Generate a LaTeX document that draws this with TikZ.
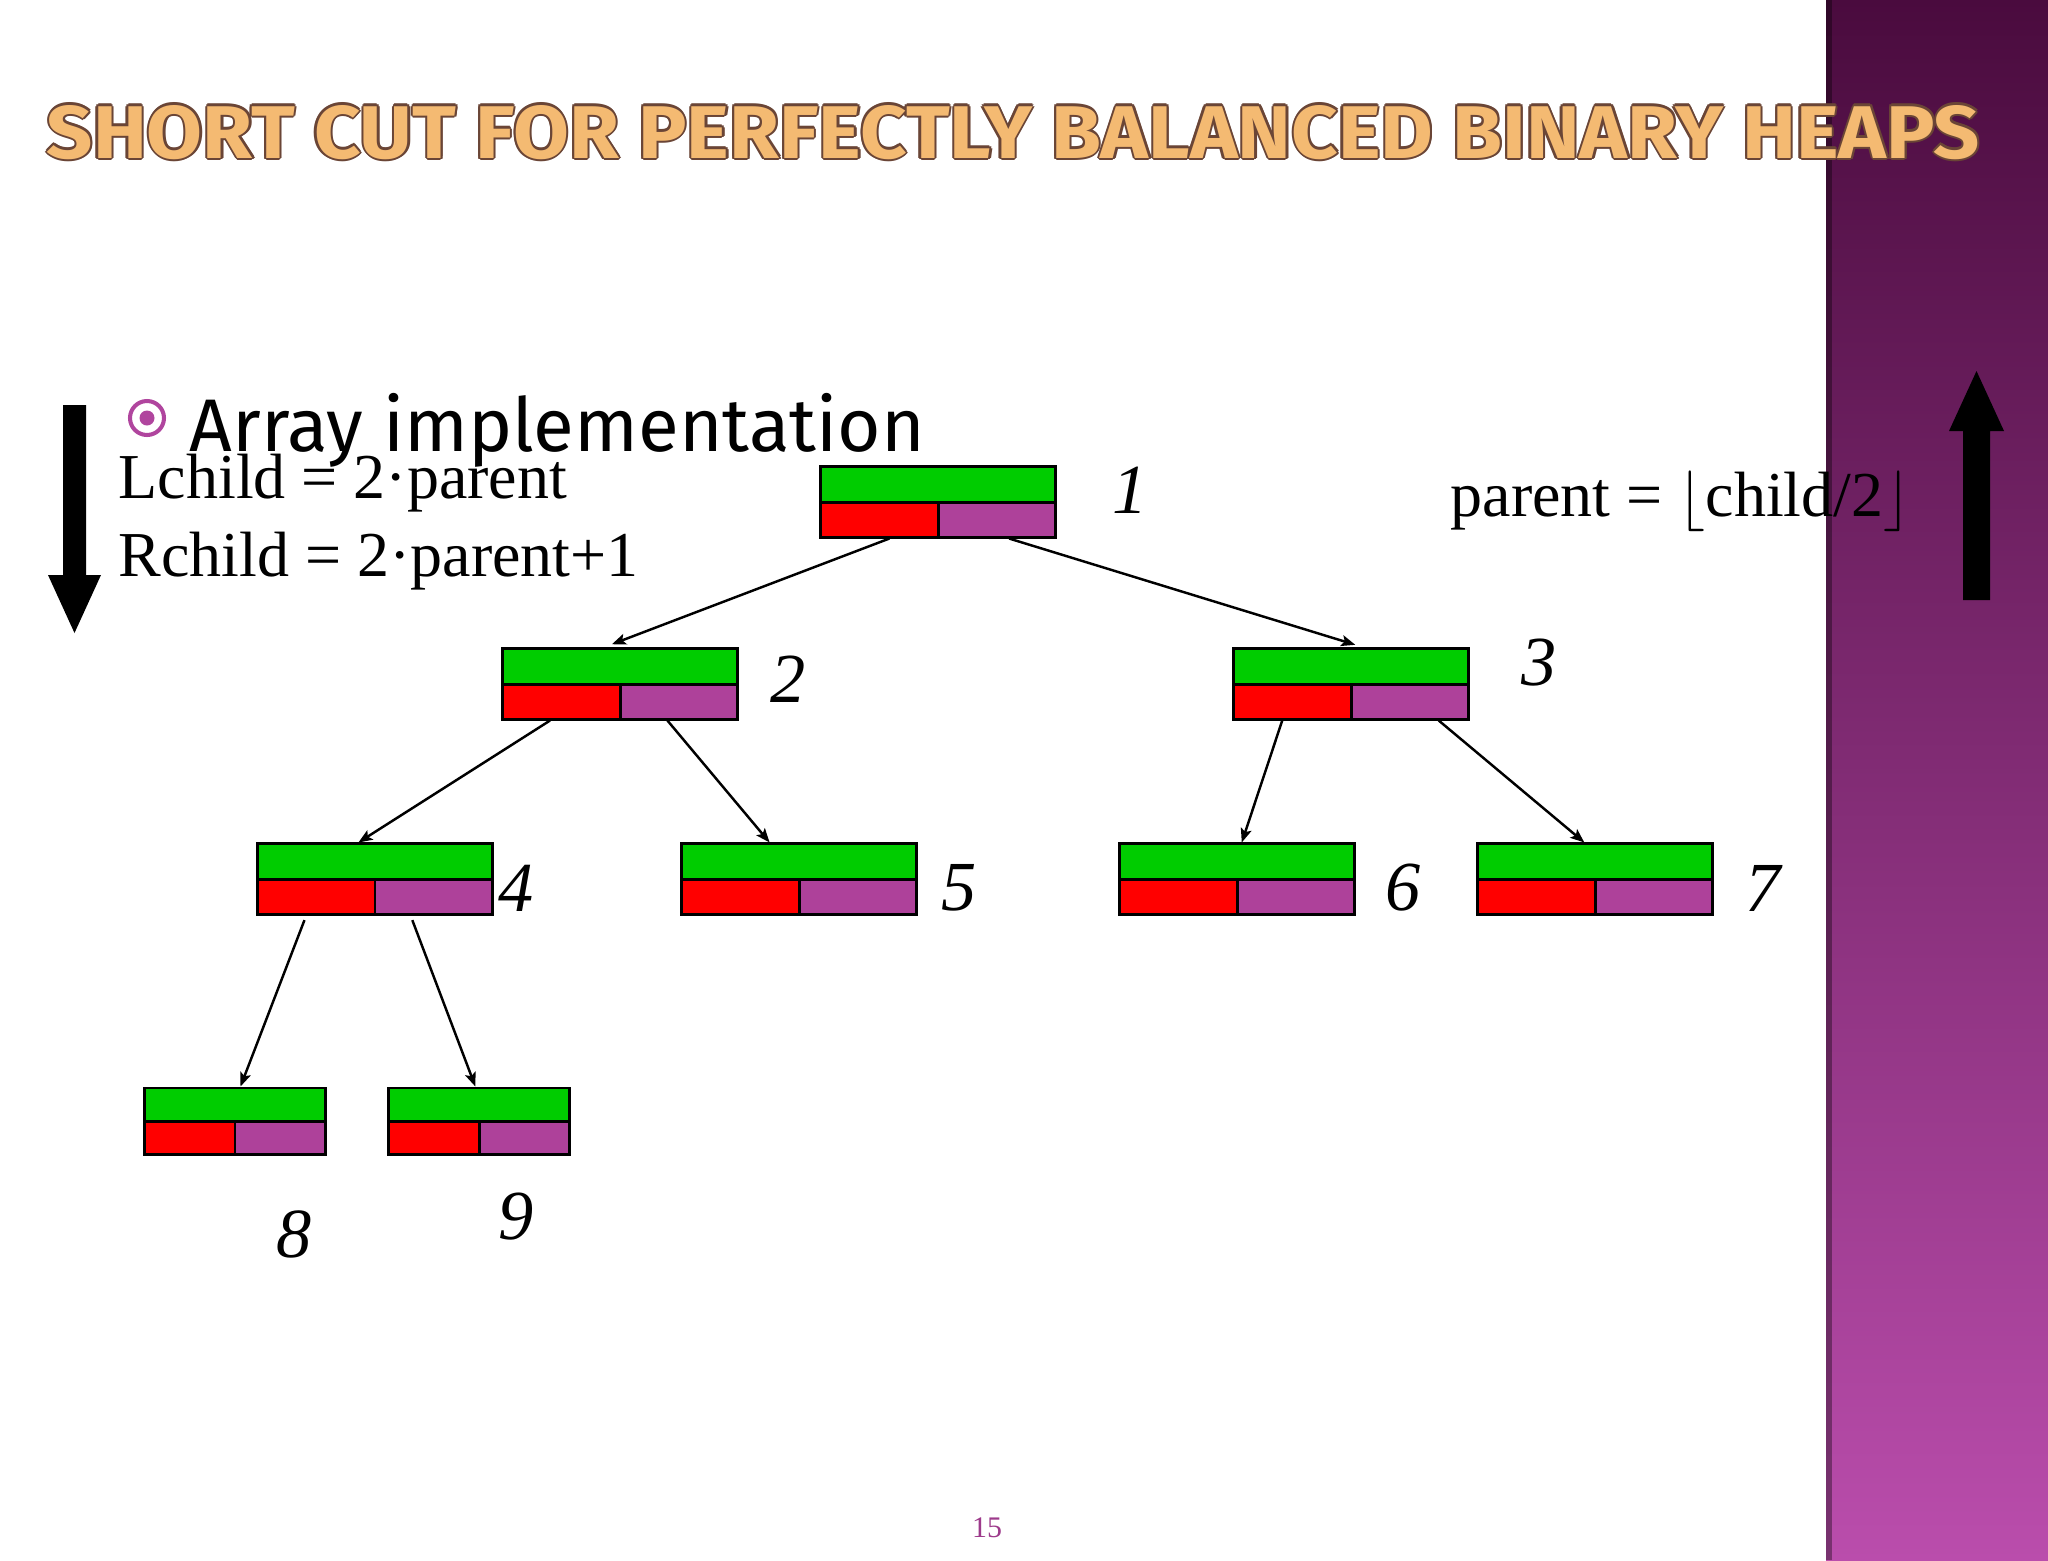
\documentclass[tikz,border=0pt]{standalone}
\usepackage{fontspec}
\setmainfont{Liberation Serif}
\newfontfamily\titlefont{Fira Sans}
\usetikzlibrary{arrows.meta,calc}

\definecolor{cellgreen}{HTML}{00CC00}
\definecolor{cellred}{HTML}{FF0000}
\definecolor{cellpurple}{HTML}{AE419A}
\definecolor{bandtop}{HTML}{4A0B3E}
\definecolor{bandmid}{HTML}{8A3680}
\definecolor{bandbot}{HTML}{BA4DAC}
\definecolor{titlefill}{HTML}{F4BA72}
\definecolor{titleedge}{HTML}{6A4536}
\definecolor{bulletcol}{HTML}{B0459E}

\tikzset{
  heapcell/.style={draw, line width=0.85pt, inner sep=0pt,
    minimum width=2.34cm, minimum height=0.70cm,
    path picture={
      \fill[cellgreen] (path picture bounding box.north west) rectangle (path picture bounding box.east);
      \fill[cellred] (path picture bounding box.west) rectangle (path picture bounding box.south);
      \fill[cellpurple] (path picture bounding box.center) rectangle (path picture bounding box.south east);
      \draw[line width=0.85pt] (path picture bounding box.west) -- (path picture bounding box.east)
        (path picture bounding box.center) -- (path picture bounding box.south);
    }},
  smallcell/.style={heapcell, minimum width=1.80cm, minimum height=0.66cm},
  link/.style={line width=0.7pt, -{Stealth[length=1.4mm,width=1.1mm,inset=0.3mm]}},
  idx/.style={font=\fontsize{20}{24}\selectfont\itshape, inner sep=0pt},
  formula/.style={font=\fontsize{18.2}{22}\selectfont, anchor=base west, inner sep=0pt},
  titletext/.style={anchor=base west, inner sep=0pt},
}

\newcommand{\slidetitle}{\resizebox{19.32cm}{0.53cm}{\titlefont\bfseries SHORT CUT FOR PERFECTLY BALANCED BINARY HEAPS}}

\begin{document}
\begin{tikzpicture}[x=0.01cm,y=-0.01cm]
  \useasboundingbox (0,0) rectangle (2048,1560);
  \fill[white] (0,0) rectangle (2048,1560);

  % side band
  \shade[top color=bandtop, middle color=bandmid, bottom color=bandbot] (1826,0) rectangle (2048,1560);
  \fill[black, opacity=0.35] (1826,0) rectangle (1832,1560);

  % title
  \foreach \a in {0,45,...,315}
    \node[titletext, text=titleedge] at ($(46,158)+(\a:2.2)$) {\slidetitle};
  \node[titletext, text=titlefill] (title) at (46,158) {\slidetitle};

  % bullet line
  \draw[bulletcol, line width=1.15pt] (147,418) circle (17);
  \fill[bulletcol] (147,418) circle (7.5);
  \node[anchor=base west, inner sep=0pt, font=\titlefont\fontsize{21.2}{25}\selectfont] (sub) at (189,451) {Array implementation};

  % formulas
  \node[formula] (lc) at (118,498) {Lchild = 2·parent};
  \node[formula] (rc) at (118,576) {Rchild = 2·parent+1};
  \node[formula] (pc) at (1450,516) {parent = $\lfloor$child/2$\rfloor$};

  % direction arrows
  \fill (63,405) -- (86,405) -- (86,575) -- (101,575) -- (74.5,633) -- (48,575) -- (63,575) -- cycle;
  \fill (1963,600) -- (1990,600) -- (1990,431) -- (2004,431) -- (1976.5,371) -- (1949,431) -- (1963,431) -- cycle;

  % heap cells
  \node[heapcell] (n1) at (938,502) {};
  \node[heapcell] (n2) at (620,684) {};
  \node[heapcell] (n3) at (1351,684) {};
  \node[heapcell] (n4) at (375,879) {};
  \node[heapcell] (n5) at (799,879) {};
  \node[heapcell] (n6) at (1237,879) {};
  \node[heapcell] (n7) at (1595,879) {};
  \node[smallcell] (n8) at (235,1121) {};
  \node[smallcell] (n9) at (479,1121) {};

  % indices
  \node[idx] (i1) at (1130,490) {1};
  \node[idx] (i2) at (788,679) {2};
  \node[idx] (i3) at (1539,663) {3};
  \node[idx] (i4) at (516,888) {4};
  \node[idx] (i5) at (959,888) {5};
  \node[idx] (i6) at (1403,888) {6};
  \node[idx] (i7) at (1763,888) {7};
  \node[idx] (i8) at (294,1234) {8};
  \node[idx] (i9) at (516,1217) {9};

  % parent -> child links
  \draw[link, shorten >=2.6pt] ($(n1.south west)!0.295!(n1.south east)$) -- ($(n2.north west)!0.43!(n2.north east)$);
  \draw[link, shorten >=2.6pt] ($(n1.south west)!0.80!(n1.south east)$) -- ($(n3.north west)!0.555!(n3.north east)$);
  \draw[link] ($(n2.south west)!0.205!(n2.south east)$) -- ($(n4.north west)!0.43!(n4.north east)$);
  \draw[link] ($(n2.south west)!0.70!(n2.south east)$) -- ($(n5.north west)!0.376!(n5.north east)$);
  \draw[link] ($(n3.south west)!0.21!(n3.south east)$) -- ($(n6.north west)!0.52!(n6.north east)$);
  \draw[link] ($(n3.south west)!0.87!(n3.south east)$) -- ($(n7.north west)!0.455!(n7.north east)$);
  \draw[link, shorten <=1.4pt] ($(n4.south west)!0.21!(n4.south east)$) -- ($(n8.north west)!0.53!(n8.north east)$);
  \draw[link, shorten <=1.4pt] ($(n4.south west)!0.65!(n4.south east)$) -- ($(n9.north west)!0.48!(n9.north east)$);

  % page number
  \node[font=\fontsize{8.5}{10}\selectfont, text=cellpurple!90!black, inner sep=0pt] (pg) at (987,1528) {15};
\end{tikzpicture}
\end{document}
